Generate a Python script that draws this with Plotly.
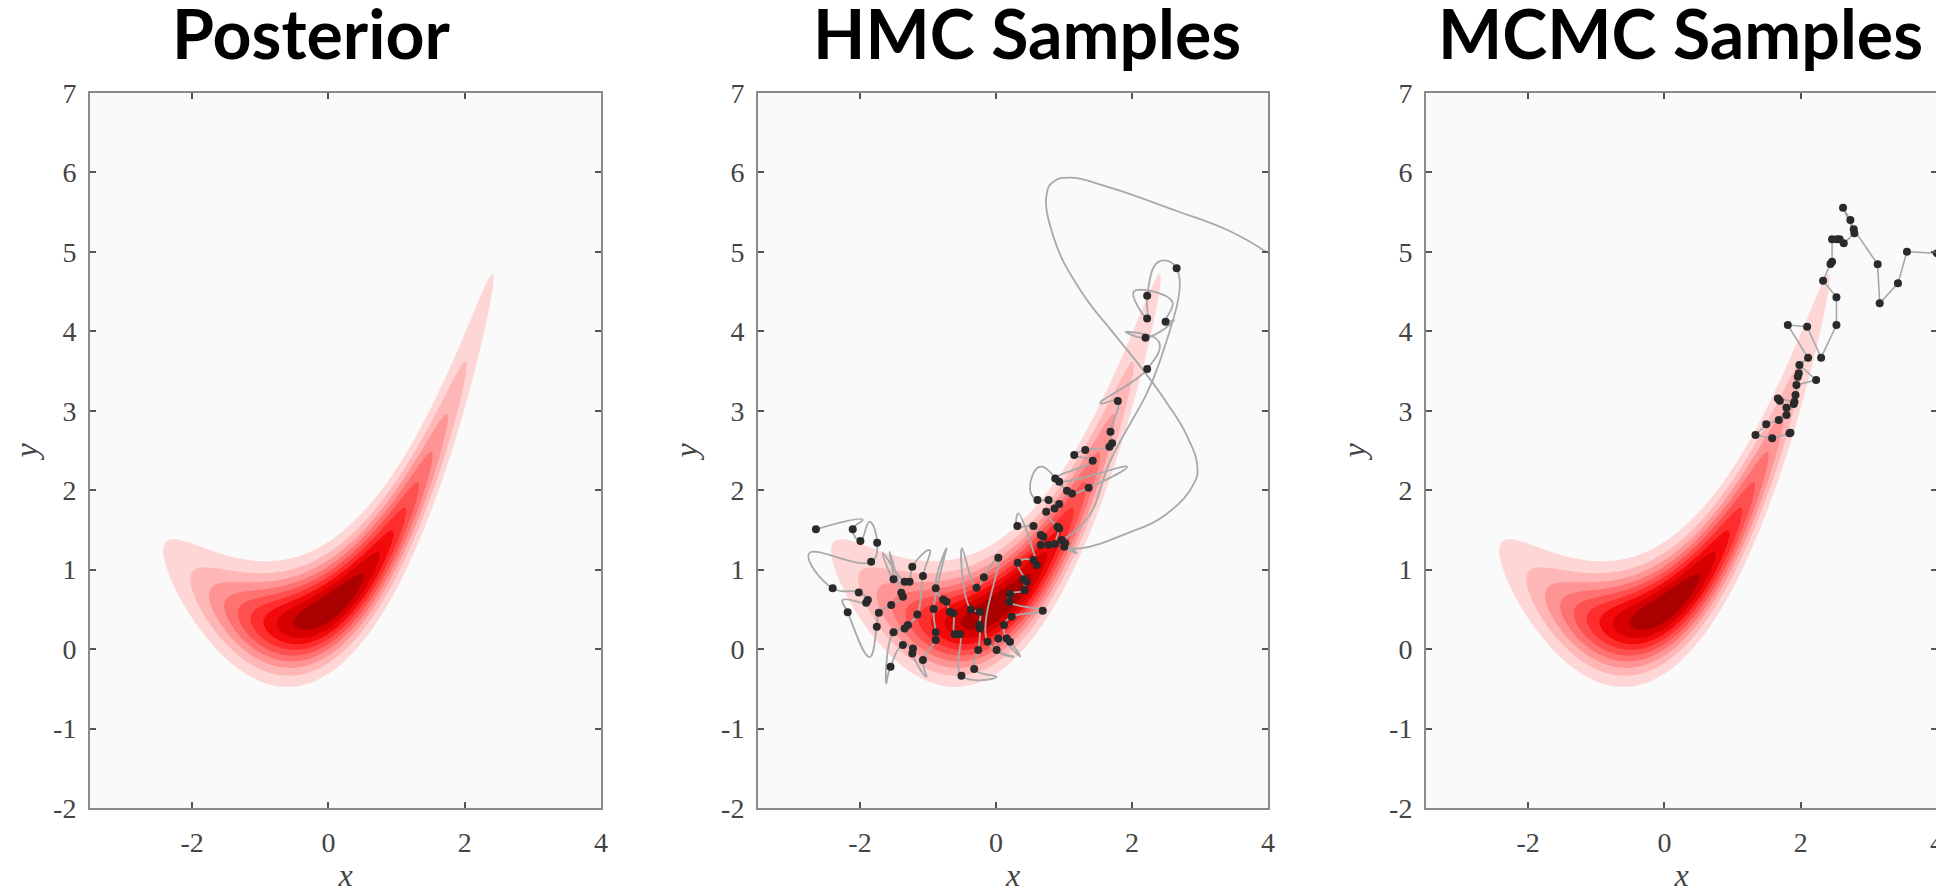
import numpy as np
import plotly.graph_objects as go

# ---------------- data ----------------
panel_titles = ["Posterior", "HMC Samples", "MCMC Samples"]
x_range = [-3.5, 4]
y_range = [-2, 7]
x_ticks = [-2, 0, 2, 4]
x_tick_labels = ["-2", "0", "2", "4"]
y_ticks = [-2, -1, 0, 1, 2, 3, 4, 5, 6, 7]
y_tick_labels = ["-2", "-1", "0", "1", "2", "3", "4", "5", "6", "7"]

# banana posterior: ridge y = c0 + c1 x + c2 x^2 + c3 x^3, spread along x and across the ridge
post_center_x = 0.0
post_sd_x = 1.13
post_sd_y = 0.387
ridge_coef = [0.52, 0.559, 0.415, 0.0256]
contour_levels = [0.1, 0.2, 0.3, 0.4, 0.5, 0.6, 0.7, 0.8, 0.9]
level_colors = ["#fafafa", "#ffd6d6", "#ffb6b6", "#ff9494", "#ff7272",
                "#ff5050", "#ff2e2e", "#f20a0a", "#d60000", "#aa0000"]

# HMC: first (long) trajectory starting at (4, 5)
hmc_first_traj_x = [3.97, 3.404, 2.617, 1.633, 1.091, 0.845, 0.747, 0.845, 1.239, 1.731,
                    2.125, 2.518, 2.814, 2.961, 2.912, 2.518, 1.928, 1.239]
hmc_first_traj_y = [5.003, 5.275, 5.527, 5.821, 5.934, 5.884, 5.737, 5.191, 4.520, 3.974,
                    3.555, 3.093, 2.674, 2.296, 2.086, 1.708, 1.457, 1.268]

# HMC samples (in chain order)
hmc_x = [1.003, 1.018, 0.969, 0.871, 0.930, 0.905, 0.738, 0.861, 0.930, 0.772, 0.610, 1.043,
         1.117, 1.363, 0.930, 0.871, 1.422, 1.151, 1.313, 1.668, 1.707, 1.683, 1.791, 2.223,
         2.199, 2.494, 2.223, 2.223, 2.656, 0.772, 0.659, 0.698, 0.659, 0.551, 0.314, 0.600,
         0.551, 0.319, 0.452, 0.403, 0.418, 0.206, 0.196, 0.688, 0.231, 0.117, 0.157, 0.206,
         0.034, 0.009, -0.124, 0.034, -0.178, -0.286, -0.370, -0.237, -0.247, -0.237, -0.261,
         -0.321, -0.508, -0.532, -0.606, -0.631, -0.680, -0.729, -0.778, -0.886, -0.916,
         -0.886, -0.886, -1.074, -1.231, -1.221, -1.369, -1.551, -1.507, -1.344, -1.295,
         -1.157, -1.074, -1.231, -1.270, -1.344, -1.507, -1.393, -1.369, -1.541, -1.723,
         -1.753, -2.181, -1.910, -1.885, -2.018, -2.402, -1.836, -1.748, -1.994, -2.107, -2.648]
hmc_y = [1.289, 1.331, 1.373, 1.322, 1.519, 1.540, 1.729, 1.771, 1.826, 1.876, 1.876, 1.994,
         1.960, 2.031, 2.107, 2.149, 2.371, 2.443, 2.506, 2.548, 2.590, 2.736, 3.122, 3.525,
         3.920, 4.121, 4.163, 4.449, 4.793, 1.310, 1.310, 1.415, 1.436, 1.549, 1.549, 1.058,
         1.121, 1.088, 0.849, 0.878, 0.744, 0.693, 0.597, 0.484, 0.408, 0.303, 0.135, 0.093,
         0.135, -0.012, 0.093, 1.151, 0.903, 0.773, 0.500, 0.471, 0.303, 0.261, -0.012,
         -0.251, -0.335, 0.186, 0.186, 0.450, 0.471, 0.597, 0.626, 0.765, 0.505,
         0.211, 0.114, -0.137, -0.054, 0.009, 0.051, -0.221, 0.211, 0.261, 0.303,
         0.437, 0.920, 1.037, 0.849, 0.849, 0.878, 0.710, 0.660, 0.555, 0.458,
         0.282, 0.463, 0.584, 0.618, 0.714, 0.765, 1.100, 1.340, 1.361, 1.508, 1.508]

# extra trajectory turning points, placed after a sample index
hmc_turn_after = [0, 10, 13, 22, 23, 24, 25, 27, 28, 34, 47, 49, 53, 59, 67, 71, 75, 80,
                  83, 84, 89, 90, 94, 96, 98]
hmc_turn_x = [[1.19], [0.502, 0.649], [1.929], [1.534], [2.395, 1.903], [2.617],
              [2.592, 2.026], [2.395], [2.40, 1.70, 1.30], [0.329], [0.354], [0.255],
              [-0.5], [0.01], [-0.729], [-1.024], [-1.615], [-0.975],
              [-1.664], [-1.566], [-1.86], [-2.255], [-2.747], [-1.861], [-1.96]]
hmc_turn_y = [[1.205], [2.002, 2.296], [2.296], [3.093], [3.870, 3.995], [4.142],
              [4.373, 4.499], [4.877], [3.60, 2.40, 1.60], [1.708], [-0.095], [-0.096],
              [1.27], [-0.35], [1.268], [-0.347], [-0.431], [1.247],
              [1.205], [1.226], [-0.10], [0.618], [1.205], [1.604], [1.63]]

# MCMC (random walk) samples in chain order, starting at (4, 5)
mcmc_x = [3.999, 3.559, 3.427, 3.159, 3.129, 2.778, 2.729, 2.621, 2.787, 2.631, 2.572, 2.533,
          2.460, 2.460, 2.436, 2.328, 2.524, 2.524, 2.299, 2.094, 1.810, 2.108, 1.981, 2.226,
          1.937, 1.972, 1.957, 1.923, 1.908, 1.664, 1.693, 1.791, 1.791, 1.898, 1.678, 1.493,
          1.336, 1.581, 1.835, 1.849]
mcmc_y = [4.982, 5.003, 4.604, 4.352, 4.843, 5.284, 5.401, 5.557, 5.234, 5.108, 5.158, 5.158,
          5.158, 4.877, 4.848, 4.638, 4.428, 4.080, 3.668, 4.059, 4.080, 3.668, 3.576, 3.387,
          3.324, 3.471, 3.429, 3.198, 3.114, 3.156, 3.127, 3.039, 2.947, 3.085, 2.884, 2.829,
          2.695, 2.653, 2.716, 2.724]

# ---------------- figure ----------------
# the page has an 8px body margin, so the figure is 8px smaller than the window
W, H = 1936, 885
x_domains = [[82 / W, 593 / W], [750 / W, 1260 / W], [1418 / W, 1929 / W]]
y_domain = [(H - 800) / H, (H - 85) / H]
title_x_px = [303, 1019, 1672]

gx = np.arange(x_range[0], x_range[1] + 1e-9, 0.02)
gy = np.arange(y_range[0], y_range[1] + 1e-9, 0.02)
X, Y = np.meshgrid(gx, gy)
ridge = ridge_coef[0] + ridge_coef[1] * X + ridge_coef[2] * X ** 2 + ridge_coef[3] * X ** 3
Z = np.exp(-0.5 * ((X - post_center_x) / post_sd_x) ** 2 - 0.5 * ((Y - ridge) / post_sd_y) ** 2)
Z = Z.astype(np.float32)

n = len(level_colors) - 1
colorscale = [[i / n, c] for i, c in enumerate(level_colors)]

# build the HMC grey path: first trajectory, then samples with their turning points
path_x = list(hmc_first_traj_x)
path_y = list(hmc_first_traj_y)
turns = {i: (tx, ty) for i, tx, ty in zip(hmc_turn_after, hmc_turn_x, hmc_turn_y)}
for i, (sx, sy) in enumerate(zip(hmc_x, hmc_y)):
    path_x.append(sx)
    path_y.append(sy)
    if i in turns:
        path_x.extend(turns[i][0])
        path_y.extend(turns[i][1])

fig = go.Figure()
for k in range(3):
    xa = "x" if k == 0 else f"x{k + 1}"
    ya = "y" if k == 0 else f"y{k + 1}"
    fig.add_trace(go.Contour(
        x=gx, y=gy, z=Z, xaxis=xa, yaxis=ya,
        autocontour=False,
        contours=dict(start=contour_levels[0], end=contour_levels[-1],
                      size=contour_levels[1] - contour_levels[0], coloring="fill"),
        colorscale=colorscale, showscale=False, line=dict(width=0, smoothing=1.3),
        hoverinfo="skip"))

fig.add_trace(go.Scatter(
    x=path_x, y=path_y, xaxis="x2", yaxis="y2",
    mode="lines", line=dict(color="#a9a9a9", width=1.8, shape="spline", smoothing=1.3),
    hoverinfo="skip", showlegend=False))
fig.add_trace(go.Scatter(
    x=hmc_x, y=hmc_y, xaxis="x2", yaxis="y2", mode="markers",
    marker=dict(color="#2a2a2a", size=8), showlegend=False))

fig.add_trace(go.Scatter(
    x=mcmc_x, y=mcmc_y, xaxis="x3", yaxis="y3", mode="lines+markers",
    line=dict(color="#a8a8a8", width=1.6),
    marker=dict(color="#2a2a2a", size=8), showlegend=False))

axis_common = dict(
    automargin=False,
    showgrid=False, zeroline=False, showline=True, linecolor="#8a8a8a", linewidth=2,
    mirror="allticks", ticks="inside", ticklen=6, tickwidth=1.5, tickcolor="#555555",
    tickfont=dict(family="Liberation Serif", size=28, color="#444444"),
)
title_font = dict(family="Liberation Serif", size=32, color="#444444")
layout = dict(
    width=W, height=H, margin=dict(l=0, r=0, t=0, b=0, pad=0),
    paper_bgcolor="white", plot_bgcolor="#fafafa", showlegend=False,
)
for k in range(3):
    xs = "xaxis" if k == 0 else f"xaxis{k + 1}"
    ys = "yaxis" if k == 0 else f"yaxis{k + 1}"
    xa = "x" if k == 0 else f"x{k + 1}"
    ya = "y" if k == 0 else f"y{k + 1}"
    layout[xs] = dict(axis_common, domain=x_domains[k], range=x_range, anchor=ya,
                      tickvals=x_ticks, ticktext=x_tick_labels, ticklabelstandoff=8,
                      title=dict(text="<i>x</i>", font=title_font, standoff=14))
    layout[ys] = dict(axis_common, domain=y_domain, range=y_range, anchor=xa,
                      tickvals=y_ticks, ticktext=y_tick_labels, ticklabelstandoff=6,
                      title=dict(text="<i>y</i>", font=title_font, standoff=14))
fig.update_layout(**layout)

for k in range(3):
    fig.add_annotation(
        text=f"<b>{panel_titles[k]}</b>", xref="paper", yref="paper",
        x=title_x_px[k] / W, y=1 - 25 / H, xanchor="center", yanchor="middle",
        showarrow=False, font=dict(family="Lato", size=68, color="black"))

fig.write_html("out.html")
